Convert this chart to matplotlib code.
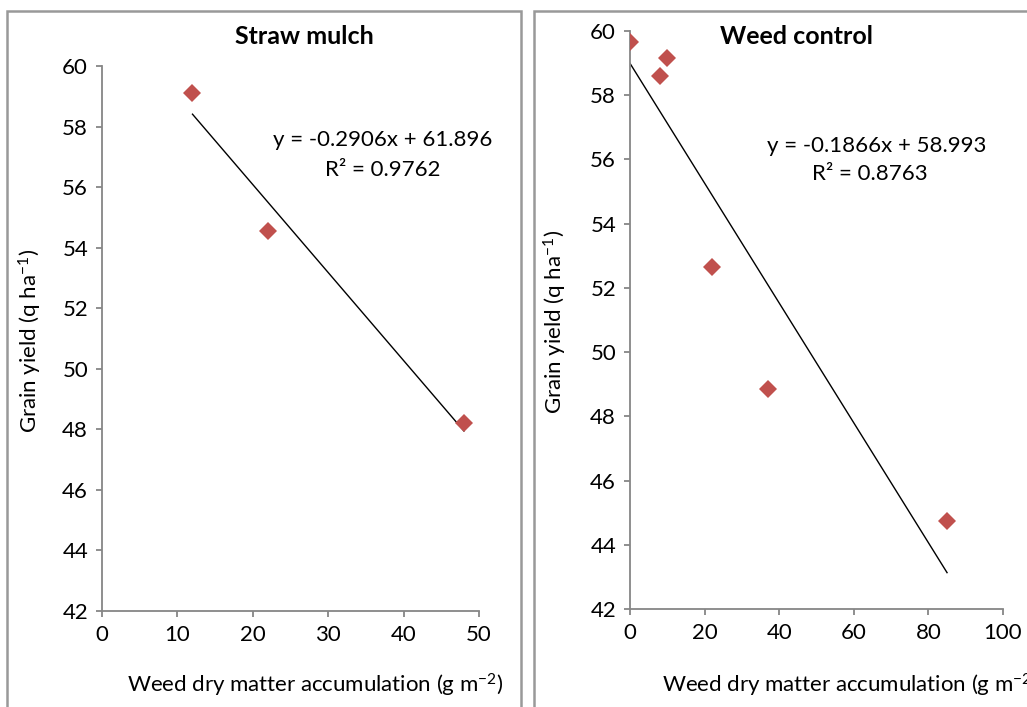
import matplotlib
matplotlib.use("Agg")
from matplotlib import pyplot as plt
from matplotlib.patches import Rectangle

plt.rcParams['font.family'] = ['Lato', 'DejaVu Sans']
plt.rcParams['mathtext.fontset'] = 'custom'
plt.rcParams['mathtext.rm'] = 'Lato'
plt.rcParams['mathtext.it'] = 'Lato:italic'
plt.rcParams['mathtext.bf'] = 'Lato:bold'

# straw mulch panel
straw_x = [12, 22, 48]
straw_y = [59.1, 54.55, 48.2]
straw_slope, straw_icept = -0.2906, 61.896
straw_r2 = 0.9762

# weed control panel
weed_x = [0, 8, 10, 22, 37, 85]
weed_y = [59.65, 58.6, 59.15, 52.65, 48.85, 44.75]
weed_slope, weed_icept = -0.1866, 58.993
weed_r2 = 0.8763

W, H = 1027, 707
GRAY = '#868686'
RED = '#C0504D'
FS = 16


def px(x, y):
    return x / W, 1 - y / H


def panel(ax, xs, ys, slope, icept, xlim, xticks):
    ax.plot(xs, ys, linestyle='none', marker='D', ms=9.5, color=RED, mew=0, zorder=3)
    x0, x1 = min(xs), max(xs)
    ax.plot([x0, x1], [slope * x0 + icept, slope * x1 + icept], color='black', lw=1.0, zorder=2)
    ax.set_xlim(xlim)
    ax.set_ylim(42, 60)
    ax.set_xticks(xticks)
    ax.set_yticks(range(42, 61, 2))
    for s in ['top', 'right']:
        ax.spines[s].set_visible(False)
    for s in ['left', 'bottom']:
        ax.spines[s].set_color(GRAY)
        ax.spines[s].set_linewidth(1.3)
    ax.tick_params(direction='out', length=4, width=1.3, color=GRAY, labelsize=FS, pad=6)
    for lab in ax.get_xticklabels() + ax.get_yticklabels():
        lab.set_clip_on(False)


fig = plt.figure(figsize=(W / 100, H / 100), dpi=100)

# panel frames (chart areas)
fig.patches.append(Rectangle(px(7, 740), (521 - 7) / W, (740 - 11) / H, transform=fig.transFigure,
                             fill=False, edgecolor='#999999', lw=1.8))
fig.patches.append(Rectangle(px(534, 740), (1100 - 534) / W, (740 - 11) / H, transform=fig.transFigure,
                             fill=False, edgecolor='#999999', lw=1.8))

l0, b0 = px(102, 611)
l1, t0 = px(479, 66)
ax1 = fig.add_axes([l0, b0, l1 - l0, t0 - b0])
panel(ax1, straw_x, straw_y, straw_slope, straw_icept, (0, 50), range(0, 51, 10))

r0, b1 = px(630, 609)
r1, t1 = px(1003, 31)
ax2 = fig.add_axes([r0, b1, r1 - r0, t1 - b1])
panel(ax2, weed_x, weed_y, weed_slope, weed_icept, (0, 100), range(0, 101, 20))

xlabel = 'Weed dry matter accumulation (g m$^{\\mathregular{-2}}$)'
ylabel = 'Grain yield (q ha$^{\\mathregular{-1}}$)'

fig.text(*px(315, 685), xlabel, ha='center', va='center', fontsize=FS)
fig.text(*px(662, 685), xlabel, ha='left', va='center', fontsize=FS)
fig.text(*px(30, 341), ylabel, ha='center', va='center', rotation=90, fontsize=FS)
fig.text(*px(555, 322), ylabel, ha='center', va='center', rotation=90, fontsize=FS)

fig.text(*px(304, 37), 'Straw mulch', ha='center', va='center', fontsize=FS + 2, fontweight='bold')
fig.text(*px(797, 37), 'Weed control', ha='center', va='center', fontsize=FS + 2, fontweight='bold')

fig.text(*px(383, 140), f'y = {straw_slope}x + {straw_icept}', ha='center', va='center', fontsize=FS)
fig.text(*px(383, 170), f'R² = {straw_r2}', ha='center', va='center', fontsize=FS)
fig.text(*px(877, 146), f'y = {weed_slope}x + {weed_icept}', ha='center', va='center', fontsize=FS)
fig.text(*px(870, 174), f'R² = {weed_r2}', ha='center', va='center', fontsize=FS)

fig.savefig('out.png', dpi=100)
